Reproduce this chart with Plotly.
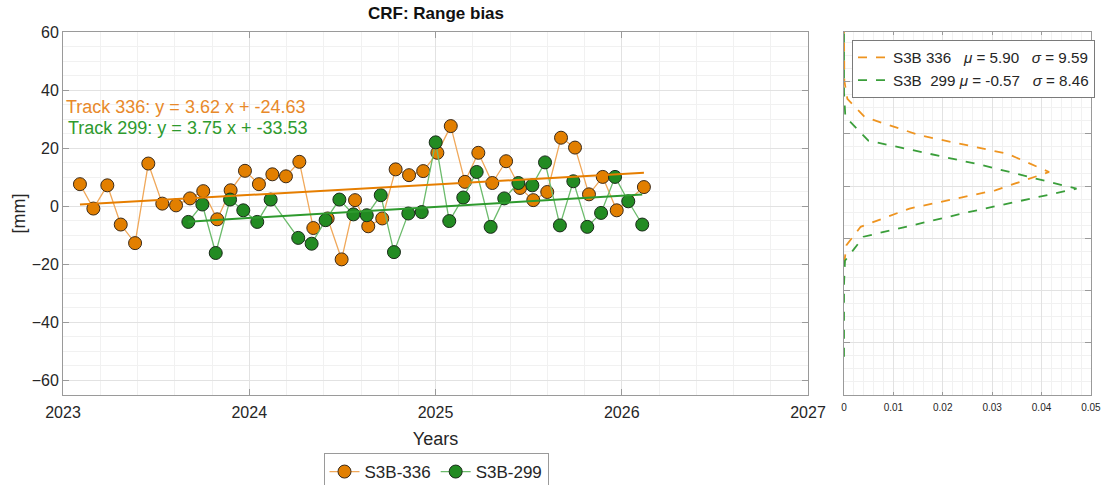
import numpy as np
import plotly.graph_objects as go

# ---------------- data ----------------
years_336 = [2023.091, 2023.163, 2023.238, 2023.310, 2023.387, 2023.458, 2023.533, 2023.607,
             2023.682, 2023.753, 2023.828, 2023.900, 2023.977, 2024.052, 2024.124, 2024.197,
             2024.269, 2024.344, 2024.421, 2024.496, 2024.568, 2024.639, 2024.714, 2024.786,
             2024.858, 2024.934, 2025.010, 2025.082, 2025.158, 2025.230, 2025.305, 2025.379,
             2025.454, 2025.525, 2025.600, 2025.674, 2025.749, 2025.824, 2025.898, 2025.973,
             2026.119]
bias_336 = [7.6, -0.8, 7.2, -6.3, -12.7, 14.7, 0.9, 0.3, 2.7, 5.2,
            -4.5, 5.5, 12.2, 7.6, 11.0, 10.3, 15.3, -7.5, -4.2, -18.3,
            2.1, -6.9, -4.2, 12.7, 10.7, 12.1, 18.4, 27.6, 8.4, 18.4,
            8.0, 15.5, 6.3, 2.1, 4.9, 23.6, 20.2, 4.1, 10.1, -1.4, 6.6]

years_299 = [2023.673, 2023.748, 2023.820, 2023.897, 2023.968, 2024.043, 2024.115, 2024.263,
             2024.335, 2024.410, 2024.484, 2024.559, 2024.631, 2024.706, 2024.777, 2024.854,
             2024.926, 2025.001, 2025.074, 2025.149, 2025.221, 2025.296, 2025.369, 2025.445,
             2025.520, 2025.588, 2025.668, 2025.740, 2025.815, 2025.889, 2025.964, 2026.035,
             2026.110]
bias_299 = [-5.4, 0.6, -16.1, 2.3, -1.4, -5.4, 2.3, -10.9, -12.9, -4.8,
            2.3, -2.8, -3.1, 3.8, -15.8, -2.5, -2.0, 22.0, -5.1, 3.0,
            11.8, -7.1, 2.7, 8.0, 7.2, 15.1, -6.6, 8.6, -7.1, -2.3,
            10.1, 1.7, -6.3]

trend_336_x = [2023.091, 2026.119]
trend_336_y = [0.6, 11.5]
trend_299_x = [2023.673, 2026.110]
trend_299_y = [-5.3, 4.0]

eq_336 = "Track 336: y = 3.62 x + -24.63"
eq_299 = "Track 299: y = 3.75 x + -33.53"

mu_336, sigma_336 = 5.90, 9.59
mu_299, sigma_299 = -0.57, 8.46
pdf_y_336 = [-29.6, -22.6, -15.6, -8.6, -1.6, 5.4, 12.4, 19.4, 26.4, 33.4, 40.4, 47.4, 54.4, 61.4]
pdf_y_299 = [-65.4, -56.2, -47.0, -37.8, -28.6, -19.4, -10.2, -1.0, 8.2, 17.4, 26.6, 35.8,
             45.0, 54.2, 63.4]

year_ticks = [2023, 2024, 2025, 2026, 2027]
mm_ticks = [-60, -40, -20, 0, 20, 40, 60]
pdf_ticks = [0, 0.01, 0.02, 0.03, 0.04, 0.05]
pdf_tick_text = ["0", "0.01", "0.02", "0.03", "0.04", "0.05"]


def gauss(y, mu, s):
    y = np.asarray(y, dtype=float)
    return np.exp(-0.5 * ((y - mu) / s) ** 2) / (s * np.sqrt(2 * np.pi))


# ---------------- style ----------------
FONT = "Liberation Sans, Arial, sans-serif"
TXT = "#262626"
ORANGE = "#E27F00"
GREEN = "#228B22"
ORANGE_LINE = "#F0A85A"
GREEN_LINE = "#6CBB6C"
AXC = "#9a9a9a"
GRID = "#e2e2e2"
MGRID = "#f1f1f1"

# page body margin is removed by the post script, so window pixels == figure pixels
W, H = 1101, 485
L, T = 63, 32
R = W - 1091
B = H - 395
pw = W - L - R
ph = H - T - B


def fx(px):
    return (px - L) / pw


def fy(py):
    return (H - B - py) / ph


fig = go.Figure()

fig.add_trace(go.Scatter(x=years_336, y=bias_336, mode="lines+markers", name="S3B-336",
                         line=dict(color=ORANGE_LINE, width=1.3),
                         marker=dict(size=13, color=ORANGE, line=dict(color="#3a2a1a", width=1)),
                         legend="legend"))
fig.add_trace(go.Scatter(x=years_299, y=bias_299, mode="lines+markers", name="S3B-299",
                         line=dict(color=GREEN_LINE, width=1.3),
                         marker=dict(size=13, color=GREEN, line=dict(color="#1a2a1a", width=1)),
                         legend="legend"))
fig.add_trace(go.Scatter(x=trend_336_x, y=trend_336_y, mode="lines", showlegend=False,
                         line=dict(color="#E67E00", width=2)))
fig.add_trace(go.Scatter(x=trend_299_x, y=trend_299_y, mode="lines", showlegend=False,
                         line=dict(color="#2E9A2E", width=2)))

nb = "\u00a0"
fig.add_trace(go.Scatter(x=gauss(pdf_y_336, mu_336, sigma_336), y=pdf_y_336, mode="lines",
                         xaxis="x2", yaxis="y2", legend="legend2",
                         name=f"S3B 336{nb*3}<i>μ</i> = {mu_336:.2f}{nb*3}<i>σ</i> = {sigma_336:.2f}",
                         line=dict(color="#EE9420", width=1.8, dash="dash")))
fig.add_trace(go.Scatter(x=gauss(pdf_y_299, mu_299, sigma_299), y=pdf_y_299, mode="lines",
                         xaxis="x2", yaxis="y2", legend="legend2",
                         name=f"S3B{nb*2}299 <i>μ</i> = {mu_299:.2f}{nb*3}<i>σ</i> = {sigma_299:.2f}",
                         line=dict(color="#3A9E3A", width=1.8, dash="dash")))

common_axis = dict(showline=True, linecolor=AXC, linewidth=1, mirror="ticks",
                   ticks="inside", tickcolor=AXC, ticklen=6, zeroline=False,
                   showgrid=True, gridcolor=GRID, gridwidth=1, automargin=False,
                   tickfont=dict(family=FONT, size=16, color=TXT))

fig.update_layout(
    width=W, height=H,
    margin=dict(l=L, r=R, t=T, b=B, autoexpand=False),
    paper_bgcolor="white", plot_bgcolor="white",
    font=dict(family=FONT, color=TXT),
    xaxis=dict(domain=[0, fx(808)], range=[2023, 2027], tickvals=year_ticks,
               ticktext=[str(v) for v in year_ticks], ticklabelstandoff=3,
               minor=dict(dtick=0.2, tick0=2023, showgrid=True, gridcolor=MGRID, ticks=""),
               title=dict(text="Years", font=dict(size=18, color=TXT), standoff=12),
               **common_axis),
    yaxis=dict(domain=[0, 1], range=[-65, 60], tickvals=mm_ticks,
               minor=dict(dtick=5, tick0=0, showgrid=True, gridcolor=MGRID, ticks=""),
               title=dict(text="[mm]", font=dict(size=18, color=TXT), standoff=1),
               **common_axis),
    xaxis2=dict(domain=[fx(844), 1], range=[0, 0.05002], anchor="y2",
                tickvals=pdf_ticks, ticktext=pdf_tick_text, ticklabelstandoff=3,
                ticklabeloverflow="allow",
                minor=dict(dtick=0.002, tick0=0, showgrid=True, gridcolor=MGRID, ticks=""),
                **{**common_axis, "tickfont": dict(family=FONT, size=10, color=TXT), "ticklen": 3}),
    yaxis2=dict(domain=[0, 1], range=[-80, 59], anchor="x2", tick0=0, dtick=20,
                showticklabels=False,
                minor=dict(dtick=5, tick0=0, showgrid=True, gridcolor=MGRID, ticks=""),
                **common_axis),
    legend=dict(x=fx(436), xanchor="center", y=fy(453),
                yanchor="top", orientation="h", bgcolor="white", bordercolor=AXC,
                borderwidth=1, font=dict(family=FONT, size=17, color=TXT),
                itemwidth=30, tracegroupgap=0),
    legend2=dict(x=fx(852), xanchor="left", y=fy(40),
                 yanchor="top", bgcolor="white", bordercolor="#7a7a7a", borderwidth=1,
                 font=dict(family=FONT, size=15.2, color=TXT), itemwidth=30,
                 tracegroupgap=0),
    annotations=[
        dict(text="<b>CRF: Range bias</b>", xref="paper", yref="paper",
             x=fx(436), y=fy(13), yanchor="middle", showarrow=False,
             font=dict(family=FONT, size=17, color="#111111")),
        dict(text=eq_336, xref="x", yref="y", x=2023.005, y=34.1, xanchor="left",
             yanchor="middle", showarrow=False,
             font=dict(family=FONT, size=18, color="#E8892A")),
        dict(text=eq_299, xref="x", yref="y", x=2023.016, y=26.9, xanchor="left",
             yanchor="middle", showarrow=False,
             font=dict(family=FONT, size=18, color="#2E9A2E")),
    ],
)

fig.write_html(
    "out.html",
    config={"displayModeBar": False},
    post_script="document.body.style.margin='0';document.documentElement.style.margin='0';",
)
